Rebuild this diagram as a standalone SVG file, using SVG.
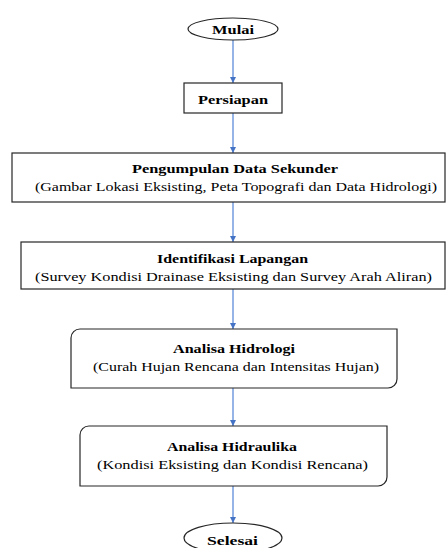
<svg xmlns="http://www.w3.org/2000/svg" width="446" height="548" viewBox="0 0 446 548">
<style>
.box{fill:#fff;stroke:#262626;stroke-width:1.2}
.t{font-family:"Liberation Serif","Times New Roman",serif;font-size:13.5px;fill:#000}
.b{font-weight:bold}
.c{stroke:#6a94dc;stroke-width:1.4;fill:none}
</style>
<defs>
<marker id="ah" viewBox="0 0 10 10" refX="10" refY="5" markerWidth="4.5" markerHeight="4.5" orient="auto" markerUnits="strokeWidth">
<path d="M0,0 L10,5 L0,10 Z" fill="#4472c4"/>
</marker>
</defs>
<rect width="446" height="548" fill="#fff"/>
<g id="connectors">
<line class="c" x1="233" y1="40" x2="233" y2="83" marker-end="url(#ah)"/>
<line class="c" x1="233" y1="113" x2="233" y2="153" marker-end="url(#ah)"/>
<line class="c" x1="233" y1="202" x2="233" y2="242" marker-end="url(#ah)"/>
<line class="c" x1="233" y1="289" x2="233" y2="329" marker-end="url(#ah)"/>
<line class="c" x1="233" y1="388" x2="233" y2="426" marker-end="url(#ah)"/>
<line class="c" x1="233" y1="486" x2="233" y2="523" marker-end="url(#ah)"/>
</g>
<g id="mulai">
<ellipse class="box" cx="233" cy="29" rx="45" ry="11"/>
<text class="t b" x="212" y="33.5" font-size="14" textLength="42" lengthAdjust="spacingAndGlyphs">Mulai</text>
</g>
<g id="persiapan">
<rect class="box" x="184" y="83" width="98" height="30"/>
<text class="t b" x="198" y="104" textLength="70" lengthAdjust="spacingAndGlyphs">Persiapan</text>
</g>
<g id="pengumpulan">
<rect class="box" x="12" y="153" width="433" height="49"/>
<text class="t b" x="132" y="172.5" textLength="206" lengthAdjust="spacingAndGlyphs">Pengumpulan  Data Sekunder</text>
<text class="t" x="35" y="190.5" textLength="402" lengthAdjust="spacingAndGlyphs">(Gambar Lokasi Eksisting,  Peta Topografi dan Data Hidrologi)</text>
</g>
<g id="identifikasi">
<rect class="box" x="21" y="242" width="424" height="47"/>
<text class="t b" x="157" y="263" textLength="151" lengthAdjust="spacingAndGlyphs">Identifikasi Lapangan</text>
<text class="t" x="35" y="281" textLength="397" lengthAdjust="spacingAndGlyphs">(Survey  Kondisi  Drainase  Eksisting  dan Survey Arah Aliran)</text>
</g>
<g id="hidrologi">
<path class="box" d="M80,329 H397 V379 A9,9 0 0 1 388,388 H71 V338 A9,9 0 0 1 80,329 Z"/>
<text class="t b" x="173" y="353" textLength="122" lengthAdjust="spacingAndGlyphs">Analisa  Hidrologi</text>
<text class="t" x="93" y="371" textLength="286" lengthAdjust="spacingAndGlyphs">(Curah Hujan  Rencana  dan Intensitas  Hujan)</text>
</g>
<g id="hidraulika">
<path class="box" d="M89,426 H387 V477 A9,9 0 0 1 378,486 H80 V435 A9,9 0 0 1 89,426 Z"/>
<text class="t b" x="167" y="451" textLength="130" lengthAdjust="spacingAndGlyphs">Analisa  Hidraulika</text>
<text class="t" x="97" y="468.5" textLength="271" lengthAdjust="spacingAndGlyphs">(Kondisi  Eksisting  dan Kondisi  Rencana)</text>
</g>
<g id="selesai">
<ellipse class="box" cx="233" cy="538" rx="49" ry="15"/>
<text class="t b" x="207" y="545" font-size="15" textLength="51" lengthAdjust="spacingAndGlyphs">Selesai</text>
</g>
</svg>
